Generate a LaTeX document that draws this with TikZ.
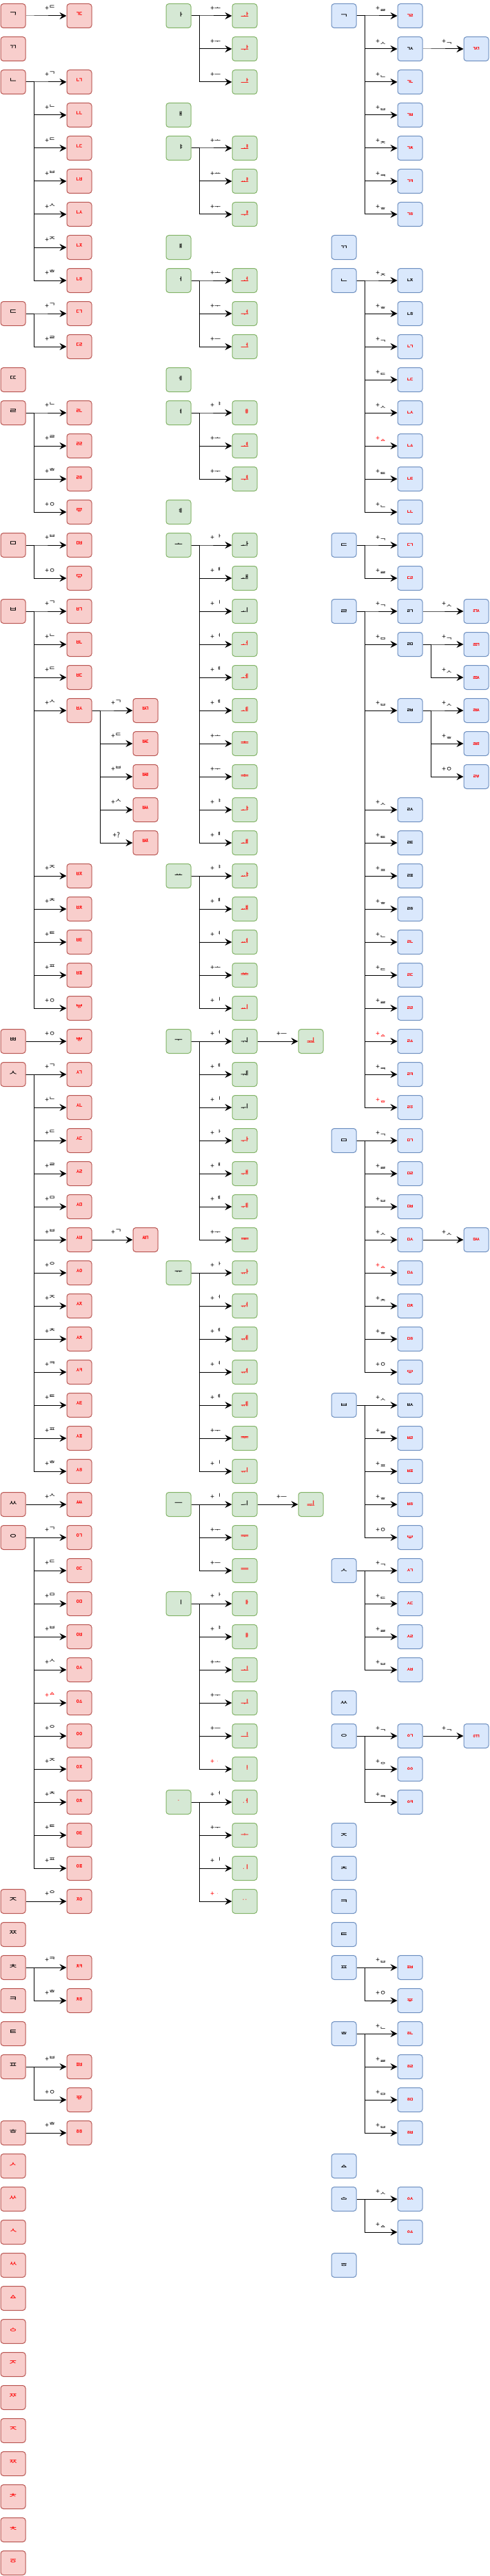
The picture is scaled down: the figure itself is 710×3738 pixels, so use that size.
\documentclass[tikz,border=0pt]{standalone}
\usepackage{fontspec}
\setmainfont{Noto Sans CJK KR}
\usetikzlibrary{arrows.meta}
\definecolor{lfill}{HTML}{F8CECC}\definecolor{ldraw}{HTML}{B85450}
\definecolor{mfill}{HTML}{D5E8D4}\definecolor{mdraw}{HTML}{82B366}
\definecolor{rfill}{HTML}{DAE8FC}\definecolor{rdraw}{HTML}{6C8EBF}
\definecolor{jred}{HTML}{FF0000}
% \JN{style}{name}{x}{row}{text}
\newcommand{\JN}[5]{\node[#1] (#2) at (#3,{25-48*(#4)}) {#5};}
% \JC{style}{parent}{name}{x}{row}{text}{label}
\newcommand{\JC}[7]{\JN{#1}{#3}{#4}{#5}{#6}%
  \draw[arr] (#2.east) -- ++(11.7,0) |- (#3.west) node[lab,pos=0.75] {#7};}
\newcommand{\RL}[1]{\textcolor{jred}{#1}}
\begin{document}
\begin{tikzpicture}[x=1pt,y=1pt,
  box/.style={rounded corners=4pt, line width=1pt, minimum width=36pt, minimum height=35pt,
    inner sep=0pt, font=\fontsize{13}{13}\selectfont},
  L/.style={box, fill=lfill, draw=ldraw}, Lr/.style={L, text=jred},
  M/.style={box, fill=mfill, draw=mdraw}, Mr/.style={M, text=jred},
  R/.style={box, fill=rfill, draw=rdraw}, Rr/.style={R, text=jred},
  arr/.style={-{Stealth[length=10pt,width=10pt,inset=3.5pt]}, line width=1pt},
  lab/.style={anchor=base, yshift=7.4pt, inner sep=0pt, font=\fontsize{10}{10}\selectfont}]
\useasboundingbox (0,0) rectangle (710,-3738);
% ================= LEFT COLUMN (choseong) =================
\JN{L}{l1}{19}{1}{^^^^1100}
\JC{Lr}{l1}{l1a}{115}{1}{^^^^115a}{+^^^^1103}
\JN{L}{l2}{19}{2}{^^^^1101}
\JN{L}{l3}{19}{3}{^^^^1102}
\JC{Lr}{l3}{l3a}{115}{3}{^^^^1113}{+^^^^1100}
\JC{Lr}{l3}{l3b}{115}{4}{^^^^1114}{+^^^^1102}
\JC{Lr}{l3}{l3c}{115}{5}{^^^^1115}{+^^^^1103}
\JC{Lr}{l3}{l3d}{115}{6}{^^^^1116}{+^^^^1107}
\JC{Lr}{l3}{l3e}{115}{7}{^^^^115b}{+^^^^1109}
\JC{Lr}{l3}{l3f}{115}{8}{^^^^115c}{+^^^^110c}
\JC{Lr}{l3}{l3g}{115}{9}{^^^^115d}{+^^^^1112}
\JN{L}{l10}{19}{10}{^^^^1103}
\JC{Lr}{l10}{l10a}{115}{10}{^^^^1117}{+^^^^1100}
\JC{Lr}{l10}{l10b}{115}{11}{^^^^115e}{+^^^^1105}
\JN{L}{l12}{19}{12}{^^^^1104}
\JN{L}{l13}{19}{13}{^^^^1105}
\JC{Lr}{l13}{l13a}{115}{13}{^^^^1118}{+^^^^1102}
\JC{Lr}{l13}{l13b}{115}{14}{^^^^1119}{+^^^^1105}
\JC{Lr}{l13}{l13c}{115}{15}{^^^^111a}{+^^^^1112}
\JC{Lr}{l13}{l13d}{115}{16}{^^^^111b}{+^^^^3147}
\JN{L}{l17}{19}{17}{^^^^1106}
\JC{Lr}{l17}{l17a}{115}{17}{^^^^111c}{+^^^^1107}
\JC{Lr}{l17}{l17b}{115}{18}{^^^^111d}{+^^^^3147}
\JN{L}{l19}{19}{19}{^^^^1107}
\JC{Lr}{l19}{l19a}{115}{19}{^^^^111e}{+^^^^1100}
\JC{Lr}{l19}{l19b}{115}{20}{^^^^111f}{+^^^^1102}
\JC{Lr}{l19}{l19c}{115}{21}{^^^^1120}{+^^^^1103}
\JC{Lr}{l19}{l19d}{115}{22}{^^^^1121}{+^^^^1109}
\JC{Lr}{l19d}{l19da}{211}{22}{^^^^1122}{+^^^^1100}
\JC{Lr}{l19d}{l19db}{211}{23}{^^^^1123}{+^^^^1103}
\JC{Lr}{l19d}{l19dc}{211}{24}{^^^^1124}{+^^^^1107}
\JC{Lr}{l19d}{l19dd}{211}{25}{^^^^1125}{+^^^^1109}
\JC{Lr}{l19d}{l19de}{211}{26}{^^^^1126}{+?}
\JC{Lr}{l19}{l19e}{115}{27}{^^^^1127}{+^^^^110c}
\JC{Lr}{l19}{l19f}{115}{28}{^^^^1128}{+^^^^110e}
\JC{Lr}{l19}{l19g}{115}{29}{^^^^1129}{+^^^^1110}
\JC{Lr}{l19}{l19h}{115}{30}{^^^^112a}{+^^^^1111}
\JC{Lr}{l19}{l19i}{115}{31}{^^^^112b}{+^^^^3147}
\JN{L}{l32}{19}{32}{^^^^1108}
\JC{Lr}{l32}{l32a}{115}{32}{^^^^112c}{+^^^^3147}
\JN{L}{l33}{19}{33}{^^^^1109}
\JC{Lr}{l33}{l33a}{115}{33}{^^^^112d}{+^^^^1100}
\JC{Lr}{l33}{l33b}{115}{34}{^^^^112e}{+^^^^1102}
\JC{Lr}{l33}{l33c}{115}{35}{^^^^112f}{+^^^^1103}
\JC{Lr}{l33}{l33d}{115}{36}{^^^^1130}{+^^^^1105}
\JC{Lr}{l33}{l33e}{115}{37}{^^^^1131}{+^^^^1106}
\JC{Lr}{l33}{l33f}{115}{38}{^^^^1132}{+^^^^1107}
\JC{Lr}{l33f}{l33fa}{211}{38}{^^^^1133}{+^^^^1100}
\JC{Lr}{l33}{l33g}{115}{39}{^^^^1135}{+^^^^110b}
\JC{Lr}{l33}{l33h}{115}{40}{^^^^1136}{+^^^^110c}
\JC{Lr}{l33}{l33i}{115}{41}{^^^^1137}{+^^^^110e}
\JC{Lr}{l33}{l33j}{115}{42}{^^^^1138}{+^^^^110f}
\JC{Lr}{l33}{l33k}{115}{43}{^^^^1139}{+^^^^1110}
\JC{Lr}{l33}{l33l}{115}{44}{^^^^113a}{+^^^^1111}
\JC{Lr}{l33}{l33m}{115}{45}{^^^^113b}{+^^^^1112}
\JN{L}{l46}{19}{46}{^^^^110a}
\JC{Lr}{l46}{l46a}{115}{46}{^^^^1134}{+^^^^1109}
\JN{L}{l47}{19}{47}{^^^^110b}
\JC{Lr}{l47}{l47a}{115}{47}{^^^^1141}{+^^^^1100}
\JC{Lr}{l47}{l47b}{115}{48}{^^^^1142}{+^^^^1103}
\JC{Lr}{l47}{l47c}{115}{49}{^^^^1143}{+^^^^1106}
\JC{Lr}{l47}{l47d}{115}{50}{^^^^1144}{+^^^^1107}
\JC{Lr}{l47}{l47e}{115}{51}{^^^^1145}{+^^^^1109}
\JC{Lr}{l47}{l47f}{115}{52}{^^^^1146}{\RL{+^^^^1140}}
\JC{Lr}{l47}{l47g}{115}{53}{^^^^1147}{+^^^^110b}
\JC{Lr}{l47}{l47h}{115}{54}{^^^^1148}{+^^^^110c}
\JC{Lr}{l47}{l47i}{115}{55}{^^^^1149}{+^^^^110e}
\JC{Lr}{l47}{l47j}{115}{56}{^^^^114a}{+^^^^1110}
\JC{Lr}{l47}{l47k}{115}{57}{^^^^114b}{+^^^^1111}
\JN{L}{l58}{19}{58}{^^^^110c}
\JC{Lr}{l58}{l58a}{115}{58}{^^^^114d}{+^^^^110b}
\JN{L}{l59}{19}{59}{^^^^110d}
\JN{L}{l60}{19}{60}{^^^^110e}
\JC{Lr}{l60}{l60a}{115}{60}{^^^^1152}{+^^^^110f}
\JC{Lr}{l60}{l60b}{115}{61}{^^^^1153}{+^^^^1112}
\JN{L}{l61}{19}{61}{^^^^110f}
\JN{L}{l62}{19}{62}{^^^^1110}
\JN{L}{l63}{19}{63}{^^^^1111}
\JC{Lr}{l63}{l63a}{115}{63}{^^^^1156}{+^^^^1107}
\JC{Lr}{l63}{l63b}{115}{64}{^^^^1157}{+^^^^3147}
\JN{L}{l65}{19}{65}{^^^^1112}
\JC{Lr}{l65}{l65a}{115}{65}{^^^^1158}{+^^^^1112}
\JN{Lr}{l66}{19}{66}{^^^^113c}
\JN{Lr}{l67}{19}{67}{^^^^113d}
\JN{Lr}{l68}{19}{68}{^^^^113e}
\JN{Lr}{l69}{19}{69}{^^^^113f}
\JN{Lr}{l70}{19}{70}{^^^^1140}
\JN{Lr}{l71}{19}{71}{^^^^114c}
\JN{Lr}{l72}{19}{72}{^^^^114e}
\JN{Lr}{l73}{19}{73}{^^^^114f}
\JN{Lr}{l74}{19}{74}{^^^^1150}
\JN{Lr}{l75}{19}{75}{^^^^1151}
\JN{Lr}{l76}{19}{76}{^^^^1154}
\JN{Lr}{l77}{19}{77}{^^^^1155}
\JN{Lr}{l78}{19}{78}{^^^^1159}
% ================= MIDDLE COLUMN (jungseong) =================
\JN{M}{m1}{259}{1}{^^^^1161}
\JC{Mr}{m1}{m1a}{355}{1}{^^^^1176}{+^^^^1169}
\JC{Mr}{m1}{m1b}{355}{2}{^^^^1177}{+^^^^116e}
\JC{Mr}{m1}{m1c}{355}{3}{^^^^11a3}{+^^^^1173}
\JN{M}{m4}{259}{4}{^^^^1162}
\JN{M}{m5}{259}{5}{^^^^1163}
\JC{Mr}{m5}{m5a}{355}{5}{^^^^1178}{+^^^^1169}
\JC{Mr}{m5}{m5b}{355}{6}{^^^^1179}{+^^^^116d}
\JC{Mr}{m5}{m5c}{355}{7}{^^^^11a4}{+^^^^116e}
\JN{M}{m8}{259}{8}{^^^^1164}
\JN{M}{m9}{259}{9}{^^^^1165}
\JC{Mr}{m9}{m9a}{355}{9}{^^^^117a}{+^^^^1169}
\JC{Mr}{m9}{m9b}{355}{10}{^^^^117b}{+^^^^116e}
\JC{Mr}{m9}{m9c}{355}{11}{^^^^117c}{+^^^^1173}
\JN{M}{m12}{259}{12}{^^^^1166}
\JN{M}{m13}{259}{13}{^^^^1167}
\JC{Mr}{m13}{m13a}{355}{13}{^^^^11a5}{+^^^^1163}
\JC{Mr}{m13}{m13b}{355}{14}{^^^^117d}{+^^^^1169}
\JC{Mr}{m13}{m13c}{355}{15}{^^^^117e}{+^^^^116e}
\JN{M}{m16}{259}{16}{^^^^1168}
\JN{M}{m17}{259}{17}{^^^^1169}
\JC{M}{m17}{m17a}{355}{17}{^^^^116a}{+^^^^1161}
\JC{M}{m17}{m17b}{355}{18}{^^^^116b}{+^^^^1162}
\JC{M}{m17}{m17c}{355}{19}{^^^^116c}{+^^^^1175}
\JC{Mr}{m17}{m17d}{355}{20}{^^^^117f}{+^^^^1165}
\JC{Mr}{m17}{m17e}{355}{21}{^^^^1180}{+^^^^1166}
\JC{Mr}{m17}{m17f}{355}{22}{^^^^1181}{+^^^^1168}
\JC{Mr}{m17}{m17g}{355}{23}{^^^^1182}{+^^^^1169}
\JC{Mr}{m17}{m17h}{355}{24}{^^^^1183}{+^^^^116e}
\JC{Mr}{m17}{m17i}{355}{25}{^^^^11a6}{+^^^^1163}
\JC{Mr}{m17}{m17j}{355}{26}{^^^^11a7}{+^^^^1164}
\JN{M}{m27}{259}{27}{^^^^116d}
\JC{Mr}{m27}{m27a}{355}{27}{^^^^1184}{+^^^^1163}
\JC{Mr}{m27}{m27b}{355}{28}{^^^^1185}{+^^^^1164}
\JC{Mr}{m27}{m27c}{355}{29}{^^^^1186}{+^^^^1167}
\JC{Mr}{m27}{m27d}{355}{30}{^^^^1187}{+^^^^1169}
\JC{Mr}{m27}{m27e}{355}{31}{^^^^1188}{+^^^^1175}
\JN{M}{m32}{259}{32}{^^^^116e}
\JC{M}{m32}{m32a}{355}{32}{^^^^116f}{+^^^^1165}
\JC{Mr}{m32a}{m32aa}{451}{32}{^^^^118b}{+^^^^1173}
\JC{M}{m32}{m32b}{355}{33}{^^^^1170}{+^^^^1166}
\JC{M}{m32}{m32c}{355}{34}{^^^^1171}{+^^^^1175}
\JC{Mr}{m32}{m32d}{355}{35}{^^^^1189}{+^^^^1161}
\JC{Mr}{m32}{m32e}{355}{36}{^^^^118a}{+^^^^1162}
\JC{Mr}{m32}{m32f}{355}{37}{^^^^118c}{+^^^^1168}
\JC{Mr}{m32}{m32g}{355}{38}{^^^^118d}{+^^^^116e}
\JN{M}{m39}{259}{39}{^^^^1172}
\JC{Mr}{m39}{m39a}{355}{39}{^^^^118e}{+^^^^1161}
\JC{Mr}{m39}{m39b}{355}{40}{^^^^118f}{+^^^^1165}
\JC{Mr}{m39}{m39c}{355}{41}{^^^^1190}{+^^^^1166}
\JC{Mr}{m39}{m39d}{355}{42}{^^^^1191}{+^^^^1167}
\JC{Mr}{m39}{m39e}{355}{43}{^^^^1192}{+^^^^1168}
\JC{Mr}{m39}{m39f}{355}{44}{^^^^1193}{+^^^^116e}
\JC{Mr}{m39}{m39g}{355}{45}{^^^^1194}{+^^^^1175}
\JN{M}{m46}{259}{46}{^^^^1173}
\JC{M}{m46}{m46a}{355}{46}{^^^^1174}{+^^^^1175}
\JC{Mr}{m46a}{m46aa}{451}{46}{^^^^1197}{+^^^^1173}
\JC{Mr}{m46}{m46b}{355}{47}{^^^^1195}{+^^^^116e}
\JC{Mr}{m46}{m46c}{355}{48}{^^^^1196}{+^^^^1173}
\JN{M}{m49}{259}{49}{^^^^1175}
\JC{Mr}{m49}{m49a}{355}{49}{^^^^1198}{+^^^^1161}
\JC{Mr}{m49}{m49b}{355}{50}{^^^^1199}{+^^^^1163}
\JC{Mr}{m49}{m49c}{355}{51}{^^^^119a}{+^^^^1169}
\JC{Mr}{m49}{m49d}{355}{52}{^^^^119b}{+^^^^116e}
\JC{Mr}{m49}{m49e}{355}{53}{^^^^119c}{+^^^^1173}
\JC{Mr}{m49}{m49f}{355}{54}{^^^^119d}{\RL{+^^^^119e}}
\JN{Mr}{m55}{259}{55}{^^^^119e}
\JC{Mr}{m55}{m55a}{355}{55}{^^^^119f}{+^^^^1165}
\JC{Mr}{m55}{m55b}{355}{56}{^^^^11a0}{+^^^^116e}
\JC{Mr}{m55}{m55c}{355}{57}{^^^^11a1}{+^^^^1175}
\JC{Mr}{m55}{m55d}{355}{58}{^^^^11a2}{\RL{+^^^^119e}}
% ================= RIGHT COLUMN (jongseong) =================
\JN{R}{r1}{499}{1}{^^^^11a8}
\JC{Rr}{r1}{r1a}{595}{1}{^^^^11c3}{+^^^^11af}
\JC{R}{r1}{r1b}{595}{2}{^^^^11aa}{+^^^^11ba}
\JC{Rr}{r1b}{r1ba}{691}{2}{^^^^11c4}{+^^^^11a8}
\JC{Rr}{r1}{r1c}{595}{3}{^^^^11fa}{+^^^^11ab}
\JC{Rr}{r1}{r1d}{595}{4}{^^^^11fb}{+^^^^11b8}
\JC{Rr}{r1}{r1e}{595}{5}{^^^^11fc}{+^^^^11be}
\JC{Rr}{r1}{r1f}{595}{6}{^^^^11fd}{+^^^^11bf}
\JC{Rr}{r1}{r1g}{595}{7}{^^^^11fe}{+^^^^11c2}
\JN{R}{r8}{499}{8}{^^^^11a9}
\JN{R}{r9}{499}{9}{^^^^11ab}
\JC{R}{r9}{r9a}{595}{9}{^^^^11ac}{+^^^^11bd}
\JC{R}{r9}{r9b}{595}{10}{^^^^11ad}{+^^^^11c2}
\JC{Rr}{r9}{r9c}{595}{11}{^^^^11c5}{+^^^^11a8}
\JC{Rr}{r9}{r9d}{595}{12}{^^^^11c6}{+^^^^11ae}
\JC{Rr}{r9}{r9e}{595}{13}{^^^^11c7}{+^^^^11ba}
\JC{Rr}{r9}{r9f}{595}{14}{^^^^11c8}{\RL{+^^^^11eb}}
\JC{Rr}{r9}{r9g}{595}{15}{^^^^11c9}{+^^^^11c0}
\JC{Rr}{r9}{r9h}{595}{16}{^^^^11ff}{+^^^^11ab}
\JN{R}{r17}{499}{17}{^^^^11ae}
\JC{Rr}{r17}{r17a}{595}{17}{^^^^11ca}{+^^^^11a8}
\JC{Rr}{r17}{r17b}{595}{18}{^^^^11cb}{+^^^^11af}
\JN{R}{r19}{499}{19}{^^^^11af}
\JC{R}{r19}{r19a}{595}{19}{^^^^11b0}{+^^^^11a8}
\JC{Rr}{r19a}{r19aa}{691}{19}{^^^^11cc}{+^^^^11ba}
\JC{R}{r19}{r19b}{595}{20}{^^^^11b1}{+^^^^11b7}
\JC{Rr}{r19b}{r19ba}{691}{20}{^^^^11d1}{+^^^^11a8}
\JC{Rr}{r19b}{r19bb}{691}{21}{^^^^11d2}{+^^^^11ba}
\JC{R}{r19}{r19c}{595}{22}{^^^^11b2}{+^^^^11b8}
\JC{Rr}{r19c}{r19ca}{691}{22}{^^^^11d3}{+^^^^11ba}
\JC{Rr}{r19c}{r19cb}{691}{23}{^^^^11d4}{+^^^^11c2}
\JC{Rr}{r19c}{r19cc}{691}{24}{^^^^11d5}{+^^^^3147}
\JC{R}{r19}{r19d}{595}{25}{^^^^11b3}{+^^^^11ba}
\JC{R}{r19}{r19e}{595}{26}{^^^^11b4}{+^^^^11c0}
\JC{R}{r19}{r19f}{595}{27}{^^^^11b5}{+^^^^11c1}
\JC{R}{r19}{r19g}{595}{28}{^^^^11b6}{+^^^^11c2}
\JC{Rr}{r19}{r19h}{595}{29}{^^^^11cd}{+^^^^11ab}
\JC{Rr}{r19}{r19i}{595}{30}{^^^^11ce}{+^^^^11ae}
\JC{Rr}{r19}{r19j}{595}{31}{^^^^11d0}{+^^^^11af}
\JC{Rr}{r19}{r19k}{595}{32}{^^^^11d7}{\RL{+^^^^11eb}}
\JC{Rr}{r19}{r19l}{595}{33}{^^^^11d8}{+^^^^11bf}
\JC{Rr}{r19}{r19m}{595}{34}{^^^^11d9}{\RL{+^^^^11f9}}
\JN{R}{r35}{499}{35}{^^^^11b7}
\JC{Rr}{r35}{r35a}{595}{35}{^^^^11da}{+^^^^11a8}
\JC{Rr}{r35}{r35b}{595}{36}{^^^^11db}{+^^^^11af}
\JC{Rr}{r35}{r35c}{595}{37}{^^^^11dc}{+^^^^11b8}
\JC{Rr}{r35}{r35d}{595}{38}{^^^^11dd}{+^^^^11ba}
\JC{Rr}{r35d}{r35da}{691}{38}{^^^^11de}{+^^^^11ba}
\JC{Rr}{r35}{r35e}{595}{39}{^^^^11df}{\RL{+^^^^11eb}}
\JC{Rr}{r35}{r35f}{595}{40}{^^^^11e0}{+^^^^11be}
\JC{Rr}{r35}{r35g}{595}{41}{^^^^11e1}{+^^^^11c2}
\JC{Rr}{r35}{r35h}{595}{42}{^^^^11e2}{+^^^^3147}
\JN{R}{r43}{499}{43}{^^^^11b8}
\JC{R}{r43}{r43a}{595}{43}{^^^^11b9}{+^^^^11ba}
\JC{Rr}{r43}{r43b}{595}{44}{^^^^11e3}{+^^^^11af}
\JC{Rr}{r43}{r43c}{595}{45}{^^^^11e4}{+^^^^11c1}
\JC{Rr}{r43}{r43d}{595}{46}{^^^^11e5}{+^^^^11c2}
\JC{Rr}{r43}{r43e}{595}{47}{^^^^11e6}{+^^^^3147}
\JN{R}{r48}{499}{48}{^^^^11ba}
\JC{Rr}{r48}{r48a}{595}{48}{^^^^11e7}{+^^^^11a8}
\JC{Rr}{r48}{r48b}{595}{49}{^^^^11e8}{+^^^^11ae}
\JC{Rr}{r48}{r48c}{595}{50}{^^^^11e9}{+^^^^11af}
\JC{Rr}{r48}{r48d}{595}{51}{^^^^11ea}{+^^^^11b8}
\JN{R}{r52}{499}{52}{^^^^11bb}
\JN{R}{r53}{499}{53}{^^^^11bc}
\JC{Rr}{r53}{r53a}{595}{53}{^^^^11ec}{+^^^^11a8}
\JC{Rr}{r53a}{r53aa}{691}{53}{^^^^11ed}{+^^^^11a8}
\JC{Rr}{r53}{r53b}{595}{54}{^^^^11ee}{+^^^^11bc}
\JC{Rr}{r53}{r53c}{595}{55}{^^^^11ef}{+^^^^11bf}
\JN{R}{r56}{499}{56}{^^^^11bd}
\JN{R}{r57}{499}{57}{^^^^11be}
\JN{R}{r58}{499}{58}{^^^^11bf}
\JN{R}{r59}{499}{59}{^^^^11c0}
\JN{R}{r60}{499}{60}{^^^^11c1}
\JC{Rr}{r60}{r60a}{595}{60}{^^^^11f3}{+^^^^11b8}
\JC{Rr}{r60}{r60b}{595}{61}{^^^^11f4}{+^^^^3147}
\JN{R}{r62}{499}{62}{^^^^11c2}
\JC{Rr}{r62}{r62a}{595}{62}{^^^^11f5}{+^^^^11ab}
\JC{Rr}{r62}{r62b}{595}{63}{^^^^11f6}{+^^^^11af}
\JC{Rr}{r62}{r62c}{595}{64}{^^^^11f7}{+^^^^11b7}
\JC{Rr}{r62}{r62d}{595}{65}{^^^^11f8}{+^^^^11b8}
\JN{R}{r66}{499}{66}{^^^^11eb}
\JN{R}{r67}{499}{67}{^^^^11f0}
\JC{Rr}{r67}{r67a}{595}{67}{^^^^11f1}{+^^^^11ba}
\JC{Rr}{r67}{r67b}{595}{68}{^^^^11f2}{+^^^^11eb}
\JN{R}{r69}{499}{69}{^^^^11f9}
\end{tikzpicture}
\end{document}
